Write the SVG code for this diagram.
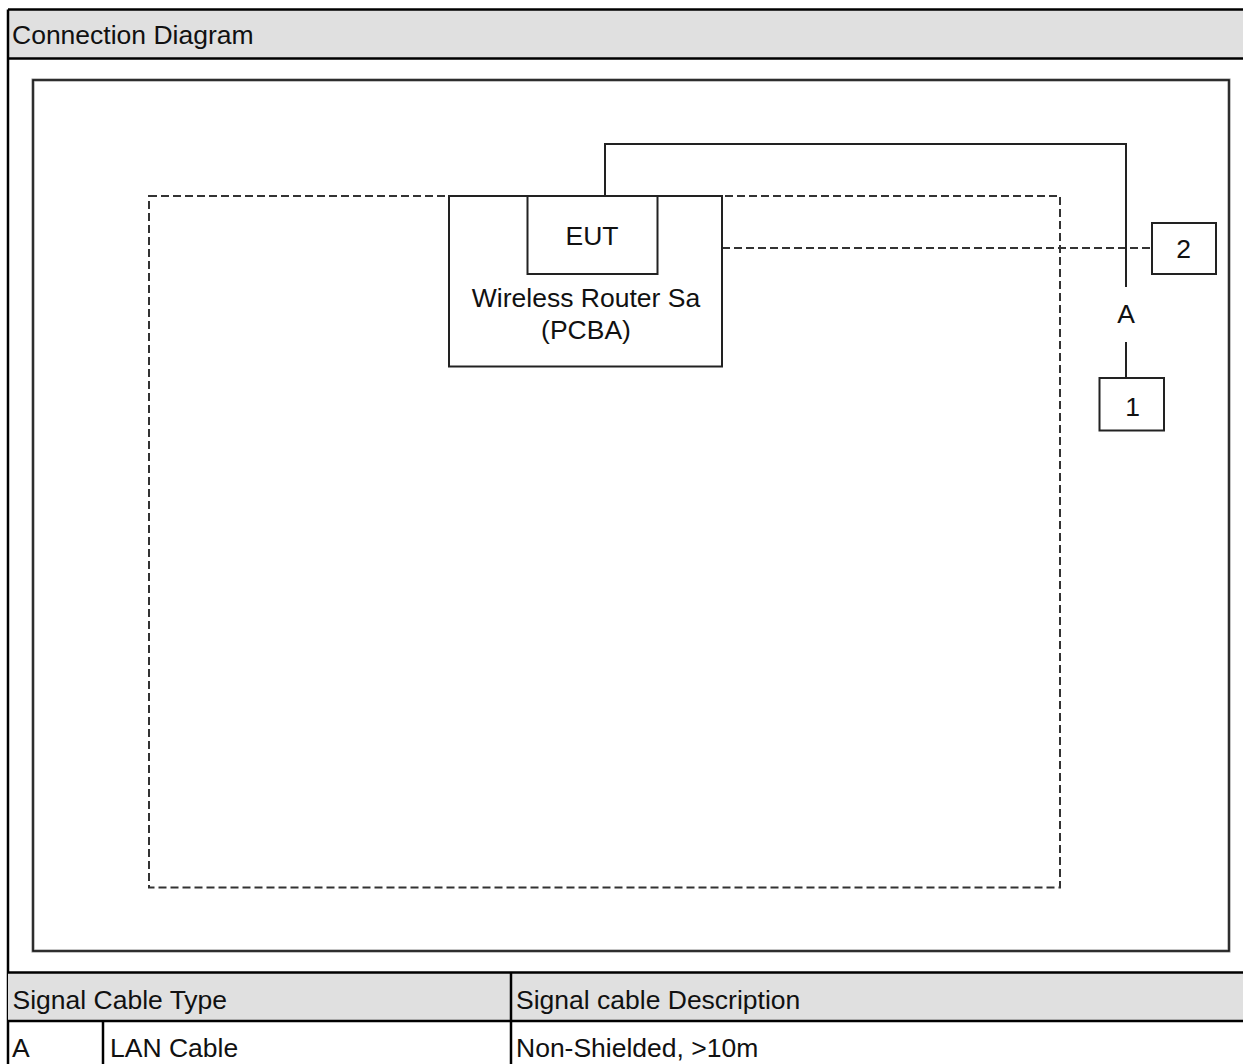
<svg xmlns="http://www.w3.org/2000/svg" width="1243" height="1064" viewBox="0 0 1243 1064">
<style>
text{font-family:"Liberation Sans",Arial,sans-serif;font-size:26.5px;fill:#111}
.frame{fill:none;stroke:#000;stroke-width:2.5}
.hdr{fill:#e0e0e0}
.box{fill:#fff;stroke:#222;stroke-width:2}
.dash{fill:none;stroke:#333;stroke-width:2;stroke-dasharray:8 4}
.wire{fill:none;stroke:#222;stroke-width:2}
.mid{text-anchor:middle}
</style>
<rect width="1243" height="1064" fill="#fff"/>
<g id="frame">
<rect class="hdr" x="8" y="9.5" width="1235" height="49"/>
<line class="frame" x1="8" y1="9.5" x2="1243" y2="9.5"/>
<line class="frame" x1="8" y1="58.5" x2="1243" y2="58.5"/>
<line class="frame" x1="8" y1="9.5" x2="8" y2="1064"/>
<text x="12" y="44">Connection Diagram</text>
<rect x="33" y="80" width="1196" height="871" fill="none" stroke="#888" stroke-width="3"/>
<rect x="33" y="80" width="1196" height="871" fill="none" stroke="#111" stroke-width="1.5"/>
</g>
<g id="table">
<rect class="hdr" x="8" y="972.5" width="1235" height="48.5"/>
<line class="frame" x1="8" y1="972.5" x2="1243" y2="972.5"/>
<line class="frame" x1="8" y1="1021" x2="1243" y2="1021"/>
<line class="frame" x1="511" y1="972.5" x2="511" y2="1064"/>
<line class="frame" x1="103" y1="1021" x2="103" y2="1064"/>
<text x="12.5" y="1009">Signal Cable Type</text>
<text x="516" y="1009">Signal cable Description</text>
<text x="12" y="1057">A</text>
<text x="110" y="1057">LAN Cable</text>
<text x="516" y="1057">Non-Shielded, &gt;10m</text>
</g>
<g id="connectors">
<rect class="dash" x="149" y="196" width="911" height="691.5"/>
<line class="dash" x1="722" y1="248" x2="1152" y2="248"/>
<polyline class="wire" points="605,196 605,144 1126,144 1126,287"/>
<line class="wire" x1="1126" y1="342" x2="1126" y2="378"/>
<text class="mid" x="1126" y="323">A</text>
</g>
<g id="router">
<rect class="box" x="449" y="196" width="273" height="170.5"/>
<text class="mid" x="586" y="307">Wireless Router Sa</text>
<text class="mid" x="586" y="339">(PCBA)</text>
</g>
<g id="eut">
<rect class="box" x="527.5" y="196" width="130" height="78"/>
<text class="mid" x="592" y="245">EUT</text>
</g>
<g id="dev2">
<rect class="box" x="1152" y="223" width="64" height="51"/>
<text class="mid" x="1183.5" y="258">2</text>
</g>
<g id="dev1">
<rect class="box" x="1099.5" y="378" width="64.5" height="52.5"/>
<text class="mid" x="1132.5" y="416">1</text>
</g>
</svg>
